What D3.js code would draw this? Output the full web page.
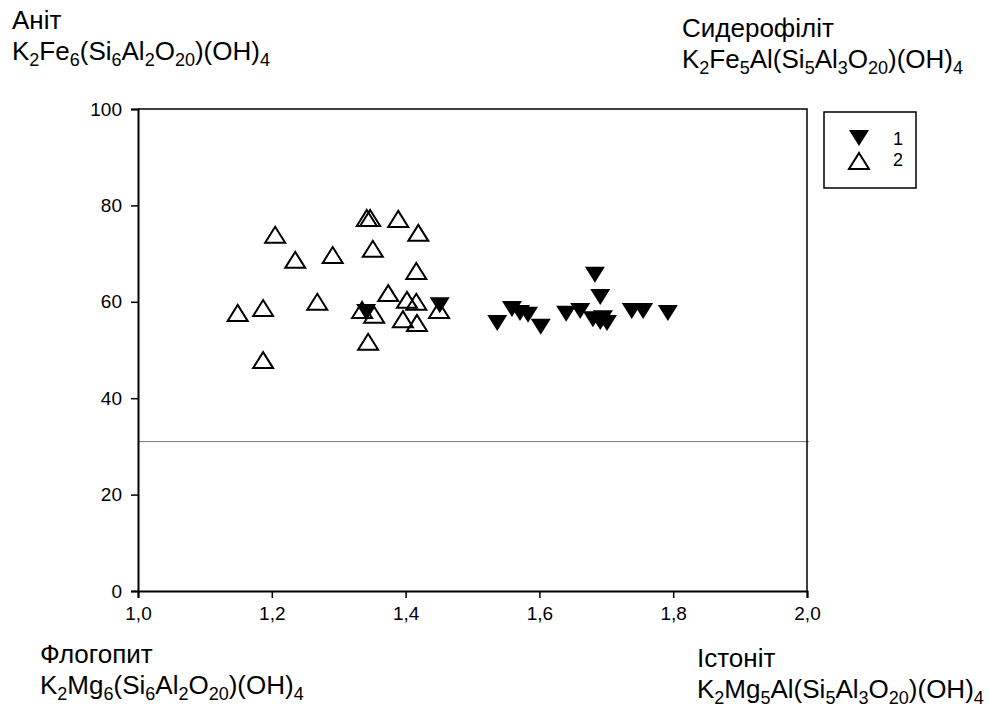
<!DOCTYPE html>
<html>
<head>
<meta charset="utf-8">
<script src="https://cdn.jsdelivr.net/npm/d3@7"></script>
<style>
  body { margin: 0; background: #fff; }
  svg { display: block; font-family: "Liberation Sans", Arial, sans-serif; }
</style>
</head>
<body>
<svg id="chart" width="989" height="707"></svg>
<script>
// серія 1 (залиті трикутники вершиною вниз)
const series1X = [1.341, 1.451, 1.537, 1.559, 1.571, 1.583, 1.602, 1.640, 1.661, 1.683, 1.691, 1.680, 1.691, 1.701, 1.695, 1.738, 1.755, 1.792];
const series1Y = [57.9, 59.3, 55.6, 58.5, 57.7, 57.3, 54.8, 57.5, 58.1, 65.6, 61.0, 56.4, 55.8, 55.6, 56.6, 58.1, 58.1, 57.7];
// серія 2 (порожні трикутники)
const series2X = [1.149, 1.187, 1.187, 1.205, 1.235, 1.268, 1.291, 1.342, 1.347, 1.389, 1.419, 1.351, 1.416, 1.374, 1.335, 1.353, 1.402, 1.416, 1.396, 1.417, 1.344, 1.450];
const series2Y = [57.7, 58.7, 47.9, 73.9, 68.7, 60.0, 69.7, 77.4, 77.4, 77.2, 74.3, 71.0, 66.4, 61.8, 58.3, 57.3, 60.4, 60.0, 56.4, 55.6, 51.7, 58.3];
const xTicks = [1.0, 1.2, 1.4, 1.6, 1.8, 2.0];
const yTicks = [0, 20, 40, 60, 80, 100];
const refLineY = 31;
const legendLabels = ["1", "2"];

(function () {
const svg = d3.select("#chart");
const m = { left: 138, right: 807, top: 109, bottom: 591 };

const x = d3.scaleLinear().domain([1, 2]).range([m.left, m.right]);
const y = d3.scaleLinear().domain([0, 100]).range([m.bottom, m.top]);
const fmt = d => d3.format(".1f")(d).replace(".", ",");

// опорна лінія
svg.append("line")
  .attr("x1", x(1)).attr("x2", x(2) + 2)
  .attr("y1", y(refLineY)).attr("y2", y(refLineY))
  .attr("stroke", "#777").attr("stroke-width", 1);

// рамка (верх і право)
svg.append("path")
  .attr("d", `M${m.left},${m.top}H${m.right}V${m.bottom}`)
  .attr("fill", "none").attr("stroke", "#000").attr("stroke-width", 1.5);

// осі
const xAxis = svg.append("g")
  .attr("transform", `translate(0,${m.bottom})`)
  .call(d3.axisBottom(x).tickValues(xTicks).tickFormat(fmt).tickSize(7).tickPadding(9));
const yAxis = svg.append("g")
  .attr("transform", `translate(${m.left},0)`)
  .call(d3.axisLeft(y).tickValues(yTicks).tickFormat(d3.format("d")).tickSize(7).tickPadding(9));

[xAxis, yAxis].forEach(g => {
  g.attr("font-size", 19).attr("font-family", "Liberation Sans, Arial, sans-serif");
  g.select(".domain").attr("stroke-width", 2);
  g.selectAll(".tick line").attr("stroke-width", 1.5);
  g.selectAll("text").attr("fill", "#000");
});

const up = "M0,-8L10,8L-10,8Z";
const down = "M-10,-8L10,-8L0,8Z";

svg.append("g").selectAll("path")
  .data(d3.range(series1X.length))
  .join("path")
  .attr("d", down)
  .attr("transform", i => `translate(${x(series1X[i])},${y(series1Y[i])})`)
  .attr("fill", "#000");

svg.append("g").selectAll("path")
  .data(d3.range(series2X.length))
  .join("path")
  .attr("d", up)
  .attr("transform", i => `translate(${x(series2X[i])},${y(series2Y[i])})`)
  .attr("fill", "none").attr("stroke", "#000").attr("stroke-width", 2);

// легенда
const lg = svg.append("g");
lg.append("rect").attr("x", 824).attr("y", 112).attr("width", 92).attr("height", 76)
  .attr("fill", "#fff").attr("stroke", "#000").attr("stroke-width", 1.5);
lg.append("path").attr("d", down).attr("transform", "translate(859,138)").attr("fill", "#000");
lg.append("path").attr("d", up).attr("transform", "translate(859,161)")
  .attr("fill", "none").attr("stroke", "#000").attr("stroke-width", 2);
legendLabels.forEach((t, i) => {
  lg.append("text").attr("x", 893).attr("y", 145 + i * 21)
    .attr("font-size", 18).text(t);
});

// підписи кутів (мінерали)
const corners = [
  { name: "Аніт", x: 12, y: 29, f: [["K"], ["2", 1], ["Fe"], ["6", 1], ["(Si"], ["6", 1], ["Al"], ["2", 1], ["O"], ["20", 1], [")(OH)"], ["4", 1]] },
  { name: "Сидерофіліт", x: 682, y: 37, f: [["K"], ["2", 1], ["Fe"], ["5", 1], ["Al(Si"], ["5", 1], ["Al"], ["3", 1], ["O"], ["20", 1], [")(OH)"], ["4", 1]] },
  { name: "Флогопит", x: 40, y: 663, f: [["K"], ["2", 1], ["Mg"], ["6", 1], ["(Si"], ["6", 1], ["Al"], ["2", 1], ["O"], ["20", 1], [")(OH)"], ["4", 1]] },
  { name: "Істоніт", x: 697, y: 667, f: [["K"], ["2", 1], ["Mg"], ["5", 1], ["Al(Si"], ["5", 1], ["Al"], ["3", 1], ["O"], ["20", 1], [")(OH)"], ["4", 1]] }
];

corners.forEach(c => {
  svg.append("text").attr("x", c.x).attr("y", c.y).attr("font-size", 26).text(c.name);
  const t = svg.append("text").attr("x", c.x).attr("y", c.y + 31).attr("font-size", 26);
  let prevSub = false;
  c.f.forEach(([s, sub]) => {
    const dy = sub ? (prevSub ? 0 : 6) : (prevSub ? -6 : 0);
    t.append("tspan").attr("dy", dy).attr("font-size", sub ? 18 : 26).text(s);
    prevSub = !!sub;
  });
});
})();
</script>
</body>
</html>
